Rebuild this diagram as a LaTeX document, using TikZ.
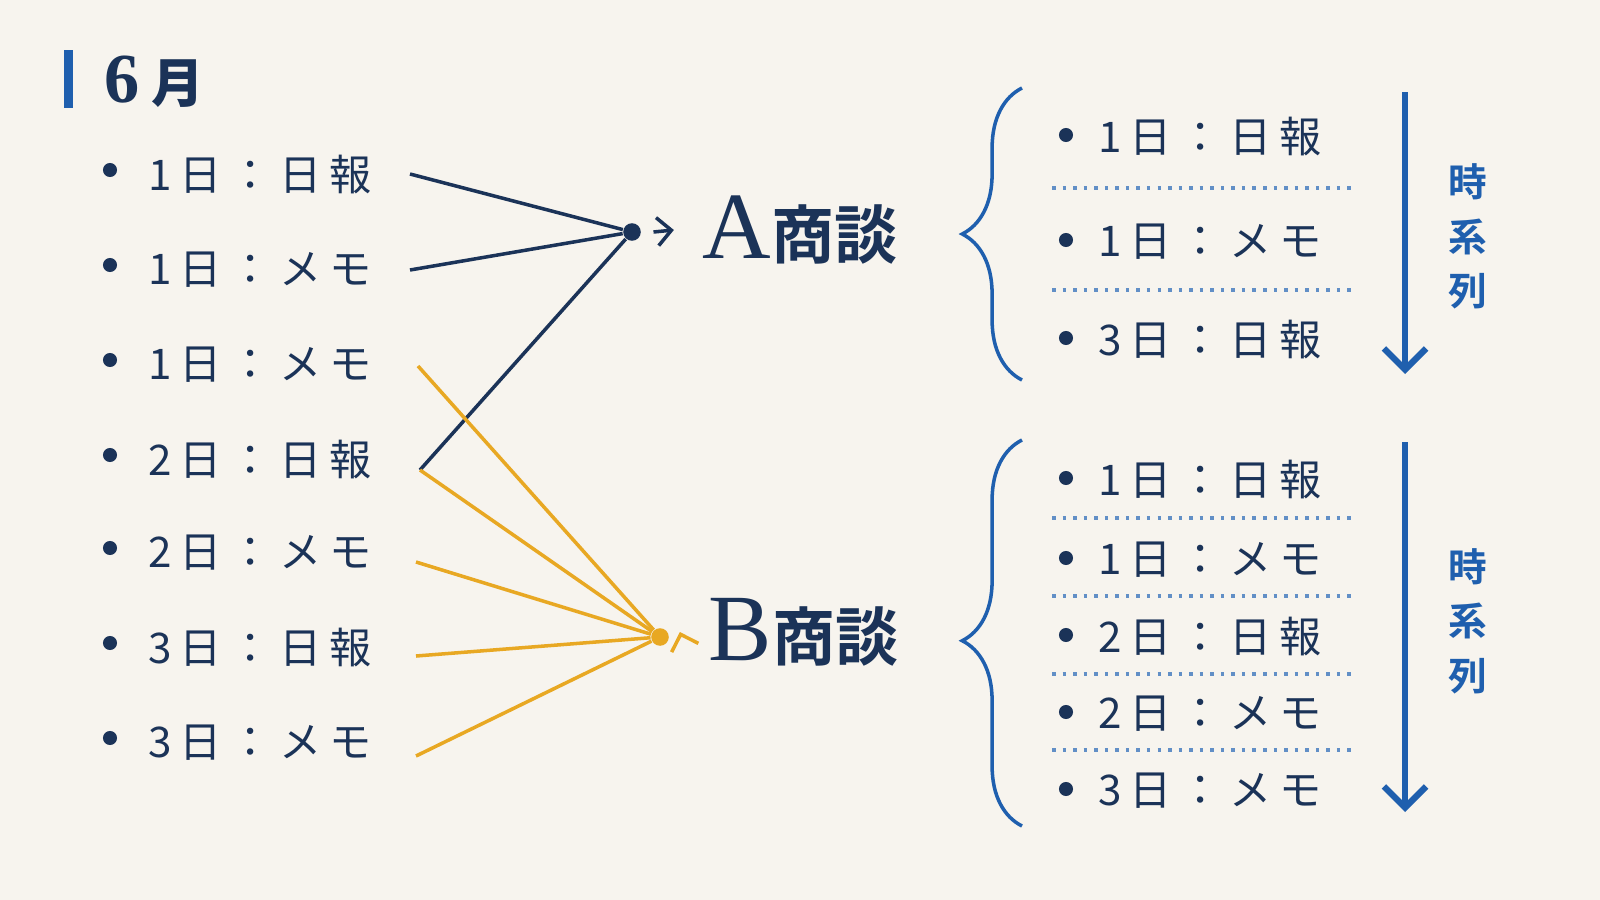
\documentclass[tikz,border=0pt]{standalone}
\usepackage{fontspec}
\usetikzlibrary{decorations.pathreplacing,arrows.meta}
\newfontfamily\jp[LetterSpace=18]{Noto Sans CJK JP}
\newfontfamily\jpb{Noto Sans CJK JP Bold}
\newfontfamily\ser{Liberation Serif}
\definecolor{navy}{HTML}{1B3358}
\definecolor{acc}{HTML}{1F5FAE}
\definecolor{gold}{HTML}{E8A823}
\definecolor{bg}{HTML}{F7F4EE}
\begin{document}
\begin{tikzpicture}[x=0.01cm,y=-0.01cm,
 item/.style={anchor=west,text=navy,font=\jp\fontsize{12}{13}\selectfont,inner sep=0},
 dot/.style={circle,fill=navy,inner sep=0,minimum size=4pt},
 bl/.style={navy,line width=1pt},
 yl/.style={gold,line width=1pt},
 sep/.style={acc!70,dotted,line width=1pt},
 vlab/.style={text=acc,font=\jpb\fontsize{11}{12}\selectfont,inner sep=0}]
\fill[bg] (0,0) rectangle (1600,900);
\useasboundingbox (0,0) rectangle (1600,900);
\fill[acc] (64,50) rectangle (73,108);
\node[anchor=west,text=navy,inner sep=0] (title) at (104,82) {\ser\bfseries\fontsize{20}{22}\selectfont 6\,\jpb\fontsize{15}{16}\selectfont 月};
% left list
\foreach \i/\y/\t in {1/172/1日：日報,2/267/1日：メモ,3/362/1日：メモ,4/457/2日：日報,5/550/2日：メモ,6/645/3日：日報,7/740/3日：メモ}{
 \node[dot] (b\i) at (110,\y-2) {};
 \node[item] (l\i) at (148,\y+3) {\t};
}
\node[circle,fill=navy,inner sep=0,minimum size=5pt] (ja) at (632,232) {};
\node[circle,fill=gold,inner sep=0,minimum size=5pt] (jb) at (660,637) {};
\coordinate (s1) at (410,174); \coordinate (s2) at (410,270);
\coordinate (s3) at (418,366); \coordinate (s4) at (420,470);
\coordinate (s5) at (416,562); \coordinate (s6) at (416,656); \coordinate (s7) at (416,756);
\draw[bl] (s1)--(ja); \draw[bl] (s2)--(ja); \draw[bl] (s4)--(ja);
\foreach \s in {s3,s4,s5,s6,s7} \draw[yl] (\s)--(jb);
\node[anchor=west,inner sep=0,text=navy] (A) at (702,230) {\ser\fontsize{27}{29}\selectfont A\jpb\fontsize{18}{20}\selectfont 商談};
\node[anchor=west,inner sep=0,text=navy] (B) at (708,632) {\ser\fontsize{27}{29}\selectfont B\jpb\fontsize{18}{20}\selectfont 商談};
\draw[navy,line width=1pt,-{Straight Barb[length=4pt]}] (ja.east)++(12,0) -- ([xshift=-8]A.west);
\draw[gold,line width=1pt,-{Straight Barb[length=4pt]}] (jb.east)++(12,0) -- ([xshift=-8]B.west);
% braces
\draw[acc,line width=1pt,decorate,decoration={brace,amplitude=17pt,aspect=0.5}] (1022,380) -- (1022,88) coordinate (ba);
\draw[acc,line width=1pt,decorate,decoration={brace,amplitude=17pt,aspect=0.48}] (1022,826) -- (1022,440) coordinate (bb);
% right lists
\foreach \i/\y/\t in {1/135/1日：日報,2/240/1日：メモ,3/338/3日：日報}{
 \node[dot] (ra\i) at (1066,\y) {};
 \node[item] (rta\i) at (1098,\y+2) {\t};}
\foreach \y in {188,290} \draw[sep] (1052,\y) -- (1352,\y);
\foreach \i/\y/\t in {1/478/1日：日報,2/558/1日：メモ,3/635/2日：日報,4/712/2日：メモ,5/789/3日：メモ}{
 \node[dot] (rb\i) at (1066,\y) {};
 \node[item] (rtb\i) at (1098,\y+2) {\t};}
\foreach \y in {518,596,674,750} \draw[sep] (1052,\y) -- (1352,\y);
% arrows
\coordinate (a1) at (1405,92); \coordinate (a2) at (1405,374);
\coordinate (a3) at (1405,442); \coordinate (a4) at (1405,812);
\draw[acc,line width=1.8pt,-{Straight Barb[length=6pt,width=12pt]}] (a1)--(a2);
\draw[acc,line width=1.8pt,-{Straight Barb[length=6pt,width=12pt]}] (a3)--(a4);
\foreach \n/\y/\c in {v1/182/時,v2/237/系,v3/291/列,w1/567/時,w2/621/系,w3/676/列}
 \node[vlab] (\n) at (1468,\y) {\c};
\end{tikzpicture}
\end{document}
